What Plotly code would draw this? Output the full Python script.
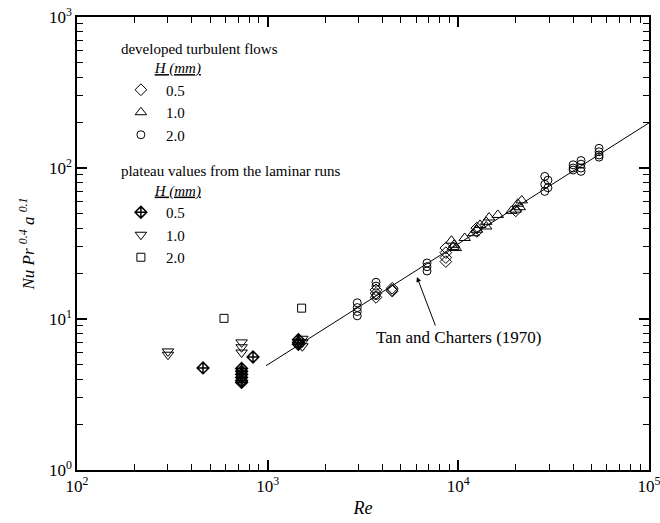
import plotly.graph_objects as go

# ---------------- data ----------------
# developed turbulent flows
turb_05_re = [3700, 3700, 3700, 4500, 4500, 4500, 8600, 8600, 8600, 8600, 12500, 12500, 20000]
turb_05_nu = [15.6, 14.8, 13.9, 16.0, 15.6, 15.3, 29.5, 27.5, 25.5, 24.0, 40.0, 38.0, 52.0]

turb_10_re = [9200, 9500, 9700, 9400, 10800, 12000, 12500, 13000, 14000, 14500, 14000,
              16100, 19000, 20000, 21000, 21500, 20500]
turb_10_nu = [33.0, 31.0, 29.5, 30.0, 34.4, 37.0, 39.0, 42.0, 44.0, 47.0, 41.0,
              48.9, 52.0, 53.0, 55.0, 61.0, 58.0]

turb_20_re = [2950, 2950, 2950, 2950, 3700, 3700, 3700, 6850, 6850, 6850,
              28400, 28400, 28400, 29500, 29500, 40000, 40000, 40000,
              44000, 44000, 44000, 44000, 54700, 54700, 54700, 54700]
turb_20_nu = [12.8, 11.9, 11.2, 10.5, 17.5, 16.5, 14.3, 23.5, 22.2, 20.8,
              88.0, 78.0, 70.0, 83.0, 74.0, 105.0, 100.0, 97.0,
              112.0, 106.0, 100.0, 95.0, 135.0, 128.0, 122.0, 118.0]

# plateau values from the laminar runs
lam_05_re = [458, 730, 730, 730, 730, 730, 730, 838, 1450, 1450, 1450]
lam_05_nu = [4.74, 4.7, 4.5, 4.3, 4.1, 3.9, 3.8, 5.6, 7.3, 7.0, 6.8]

lam_10_re = [300, 300, 730, 730, 730, 1520, 1520, 1520]
lam_10_nu = [6.1, 5.8, 7.0, 6.5, 6.0, 7.4, 7.0, 6.6]

lam_20_re = [590, 1507]
lam_20_nu = [10.1, 11.8]

# Tan and Charters (1970) correlation line (end points)
tc_re = [980, 100000]
tc_nu = [4.9, 199.0]

x_tickvals = [100, 1000, 10000, 100000]
x_ticktext = ["10<sup>2</sup>", "10<sup>3</sup>", "10<sup>4</sup>", "10<sup>5</sup>"]
y_tickvals = [1, 10, 100, 1000]
y_ticktext = ["10<sup>0</sup>", "10<sup>1</sup>", "10<sup>2</sup>", "10<sup>3</sup>"]

FONT = "Liberation Serif"
BLACK = "black"
NB = "&nbsp;"

fig = go.Figure()

fig.add_trace(go.Scatter(x=tc_re, y=tc_nu, mode="lines",
                         line=dict(color=BLACK, width=1), showlegend=False,
                         hoverinfo="skip"))

turb_title = "developed turbulent flows<br>" + NB * 9 + "<u><i>H (mm)</i></u>"
lam_title = "plateau values from the laminar runs<br>" + NB * 9 + "<u><i>H (mm)</i></u>"

series = [
    (turb_05_re, turb_05_nu, "diamond-open", 9, "0.5", "turb", turb_title),
    (turb_10_re, turb_10_nu, "triangle-up-open", 10, "1.0", "turb", turb_title),
    (turb_20_re, turb_20_nu, "circle-open", 8, "2.0", "turb", turb_title),
    (lam_05_re, lam_05_nu, "diamond-cross-open", 9, "0.5", "lam", lam_title),
    (lam_10_re, lam_10_nu, "triangle-down-open", 10, "1.0", "lam", lam_title),
    (lam_20_re, lam_20_nu, "square-open", 8, "2.0", "lam", lam_title),
]
for xs, ys, sym, sz, name, grp, gtitle in series:
    fig.add_trace(go.Scatter(
        x=xs, y=ys, mode="markers", name=name,
        marker=dict(symbol=sym, size=sz, color=BLACK,
                    line=dict(color=BLACK, width=1.5 if "cross" in sym else 1)),
        legendgroup=grp,
        legendgrouptitle=dict(text=gtitle, font=dict(family=FONT, size=15, color=BLACK)),
    ))

axis_common = dict(
    type="log", showline=True, linecolor=BLACK, linewidth=1.5, mirror="ticks",
    ticks="inside", ticklen=10, tickwidth=1.5, tickcolor=BLACK,
    showgrid=False, zeroline=False, automargin=False, ticklabeloverflow="allow",
    tickfont=dict(family=FONT, size=17, color=BLACK),
    minor=dict(ticks="inside", ticklen=6, tickwidth=1, tickcolor=BLACK,
               showgrid=False, dtick="D1"),
)

fig.update_xaxes(**axis_common, range=[2, 5], tickvals=x_tickvals, ticktext=x_ticktext,
                 title=dict(text="<i>Re</i>", font=dict(family=FONT, size=18, color=BLACK),
                            standoff=6))
fig.update_yaxes(**axis_common, range=[0, 3], tickvals=y_tickvals, ticktext=y_ticktext,
                 title=dict(text="<i>Nu Pr</i> <sup><i>0.4</i></sup> <i>a</i> <sup><i>0.1</i></sup>",
                            font=dict(family=FONT, size=17, color=BLACK), standoff=10))

# annotation: text + arrow
fig.add_annotation(x=4.0, y=0.875, xref="x", yref="y", text="Tan and Charters (1970)",
                   showarrow=False, font=dict(family=FONT, size=17, color=BLACK))
fig.add_annotation(x=3.783, y=1.278, xref="x", yref="y", text="",
                   showarrow=True, ax=19, ay=50, arrowhead=2, arrowsize=1,
                   arrowwidth=1, arrowcolor=BLACK, standoff=0, startstandoff=0)

fig.update_layout(
    width=660, height=523,
    margin=dict(l=77, r=11, t=17, b=53),
    paper_bgcolor="white", plot_bgcolor="white",
    font=dict(family=FONT, size=15, color=BLACK),
    legend=dict(x=0.068, y=0.968, xanchor="left", yanchor="top",
                bgcolor="rgba(0,0,0,0)", tracegroupgap=13,
                font=dict(family=FONT, size=15, color=BLACK), itemwidth=40),
)

fig.write_html("out.html")
